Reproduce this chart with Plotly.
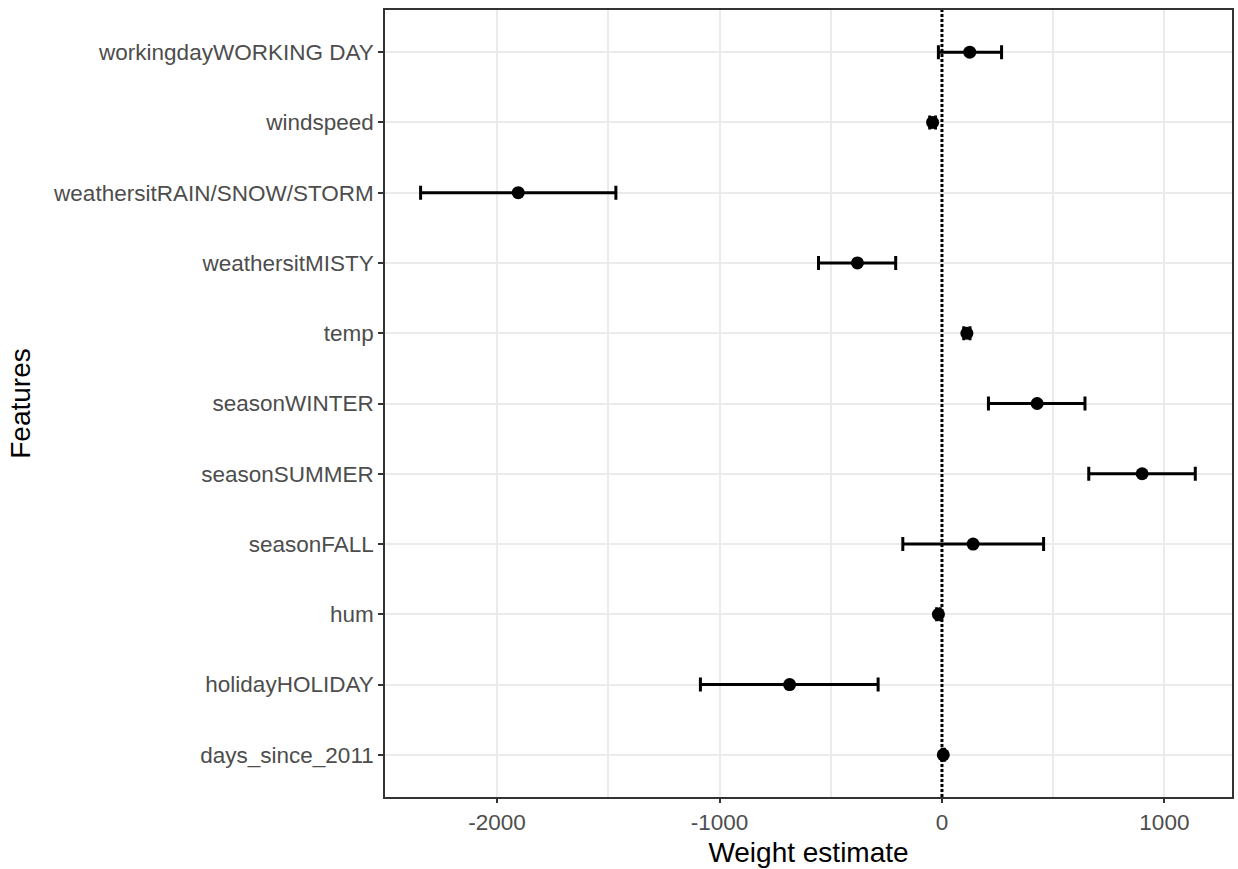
import plotly.graph_objects as go

features = ["days_since_2011", "holidayHOLIDAY", "hum", "seasonFALL", "seasonSUMMER",
            "seasonWINTER", "temp", "weathersitMISTY", "weathersitRAIN/SNOW/STORM",
            "windspeed", "workingdayWORKING DAY"]
estimate = [6, -685, -16, 140, 900, 428, 112, -380, -1905, -42, 125]
lower = [1, -1086, -24, -176, 660, 209, 98, -555, -2344, -55, -16]
upper = [11, -287, -8, 457, 1139, 643, 126, -208, -1466, -29, 268]

x_ticks = [-2000, -1000, 0, 1000]
x_ticklabels = ["-2000", "-1000", "0", "1000"]

err_plus = [u - e for u, e in zip(upper, estimate)]
err_minus = [e - l for e, l in zip(estimate, lower)]

FONT = "Liberation Sans, Arial, Helvetica, sans-serif"

fig = go.Figure()
fig.add_trace(go.Scatter(
    x=estimate, y=features, mode="markers",
    marker=dict(color="black", size=13),
    error_x=dict(type="data", symmetric=False, array=err_plus, arrayminus=err_minus,
                 color="black", thickness=3, width=7),
    showlegend=False, cliponaxis=False,
))

fig.add_shape(type="line", xref="x", yref="paper", x0=0, x1=0, y0=0, y1=1,
              line=dict(color="black", width=3, dash="3px,2px"), layer="above")

fig.update_layout(
    width=1238, height=869,
    margin=dict(l=385, r=4, t=10, b=72),
    paper_bgcolor="white", plot_bgcolor="white",
    font=dict(family=FONT, color="black"),
    xaxis=dict(
        range=[-2504, 1304], tickvals=x_ticks, ticktext=x_ticklabels,
        showgrid=True, gridcolor="#EBEBEB", gridwidth=2,
        minor=dict(tickvals=[-2500, -1500, -500, 500], showgrid=True,
                   gridcolor="#EBEBEB", gridwidth=1.5, ticks=""),
        zeroline=False,
        ticks="outside", ticklen=4, tickwidth=1.5, tickcolor="#333333",
        tickfont=dict(size=22.5, color="#4D4D4D", family=FONT),
        showline=True, linecolor="#333333", linewidth=1.5, mirror=True,
        title=dict(text="Weight estimate", font=dict(size=28, color="black", family=FONT), standoff=9),
    ),
    yaxis=dict(
        type="category", categoryorder="array", categoryarray=features,
        range=[-0.6, 10.6],
        showgrid=True, gridcolor="#EBEBEB", gridwidth=2,
        zeroline=False,
        ticks="outside", ticklen=5, tickwidth=1.5, tickcolor="#333333",
        tickfont=dict(size=22.5, color="#4D4D4D", family=FONT),
        showline=True, linecolor="#333333", linewidth=1.5, mirror=True,
        title=dict(text="Features", font=dict(size=28, color="black", family=FONT), standoff=14),
    ),
)

fig.write_html("out.html", config={"displayModeBar": False},
               post_script="document.body.style.margin='0';document.body.style.overflow='hidden';")
